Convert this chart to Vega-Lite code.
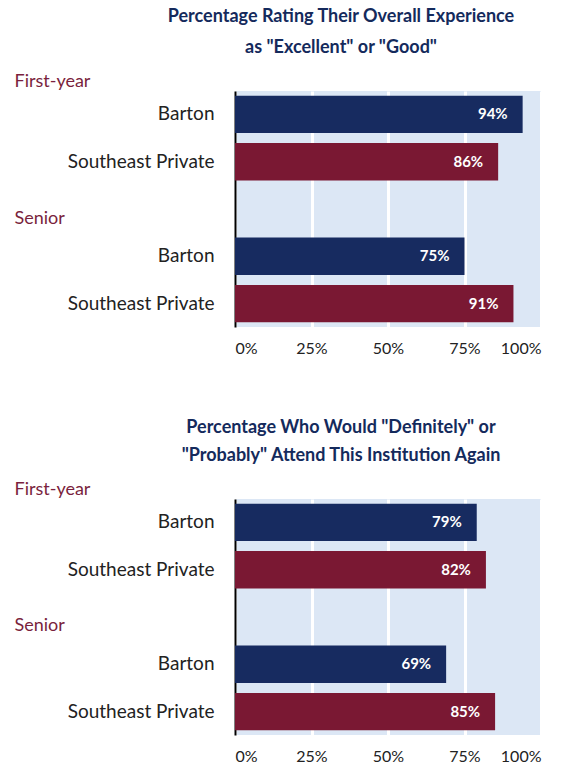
{
  "$schema": "https://vega.github.io/schema/vega-lite/v6.json",
  "padding": {"left": 14, "top": 8, "right": 5, "bottom": 0},
  "background": "white",
  "datasets": {
    "experience": [
      {"key": "First-year|Barton", "school": "Barton", "value": 0.94},
      {"key": "First-year|Southeast Private", "school": "Southeast Private", "value": 0.86},
      {"key": "Senior|Barton", "school": "Barton", "value": 0.75},
      {"key": "Senior|Southeast Private", "school": "Southeast Private", "value": 0.91}
    ],
    "again": [
      {"key": "First-year|Barton", "school": "Barton", "value": 0.79},
      {"key": "First-year|Southeast Private", "school": "Southeast Private", "value": 0.82},
      {"key": "Senior|Barton", "school": "Barton", "value": 0.69},
      {"key": "Senior|Southeast Private", "school": "Southeast Private", "value": 0.85}
    ]
  },
  "config": {
    "font": "Lato",
    "view": {"stroke": null, "fill": "#dce7f5"},
    "title": {"font": "Lato", "fontSize": 18, "fontWeight": "bold", "color": "#142a5c", "anchor": "middle", "frame": "group", "dx": -47, "lineHeight": 31, "offset": 15},
    "axisY": {
      "ticks": false, "tickSize": 0, "grid": false,
      "domainColor": "#000000", "domainWidth": 2,
      "labelFont": "Lato", "labelFontSize": 19, "labelColor": "#222222",
      "titleFont": "Lato", "titleFontSize": 18, "titleFontWeight": "normal", "titleColor": "#7a1f3d",
      "titleAngle": 0, "titleAlign": "left", "titleBaseline": "middle", "titleX": -221, "titleY": -10
    },
    "axisX": {
      "ticks": false, "domain": false, "grid": true, "gridColor": "#ffffff", "gridWidth": 3,
      "labelFont": "Lato", "labelFontSize": 16, "labelColor": "#222222", "labelPadding": 13, "title": null
    }
  },
  "spacing": 63,
  "vconcat": [
    {
      "data": {"name": "experience"},
      "title": {"text": ["Percentage Rating Their Overall Experience", "as \"Excellent\" or \"Good\""]},
      "width": 306,
      "height": 236,
      "encoding": {
        "y": {
          "field": "key", "type": "nominal",
          "scale": {"domain": ["First-year|Barton", "First-year|Southeast Private", "Senior", "Senior|Barton", "Senior|Southeast Private"], "paddingInner": 0.21, "paddingOuter": 0.1},
          "axis": {
            "title": "First-year",
            "labelExpr": "indexof(datum.value, '|') >= 0 ? split(datum.value, '|')[1] : datum.value",
            "labelAlign": {"condition": {"test": "datum.value == 'Senior'", "value": "left"}, "value": "right"},
            "labelPadding": {"condition": {"test": "datum.value == 'Senior'", "value": 221}, "value": 21},
            "labelColor": {"condition": {"test": "datum.value == 'Senior'", "value": "#7a1f3d"}, "value": "#222222"},
            "labelFontSize": {"condition": {"test": "datum.value == 'Senior'", "value": 18}, "value": 19},
            "labelOffset": {"condition": {"test": "datum.value == 'Senior'", "value": 10}, "value": 0}
          }
        },
        "x": {
          "field": "value", "type": "quantitative",
          "scale": {"domain": [0, 1], "nice": false},
          "axis": {"values": [0, 0.25, 0.5, 0.75, 1], "format": ".0%"}
        }
      },
      "layer": [
        {
          "mark": {"type": "bar"},
          "encoding": {
            "color": {"field": "school", "type": "nominal", "scale": {"domain": ["Barton", "Southeast Private"], "range": ["#172b60", "#7a1833"]}, "legend": null}
          }
        },
        {
          "mark": {"type": "text", "align": "right", "baseline": "middle", "dx": -15, "color": "#ffffff", "fontSize": 15, "fontWeight": "bold", "font": "Lato"},
          "encoding": {"text": {"field": "value", "type": "quantitative", "format": ".0%"}}
        }
      ]
    },
    {
      "data": {"name": "again"},
      "title": {"text": ["Percentage Who Would \"Definitely\" or", "\"Probably\" Attend This Institution Again"], "lineHeight": 28},
      "width": 306,
      "height": 236,
      "encoding": {
        "y": {
          "field": "key", "type": "nominal",
          "scale": {"domain": ["First-year|Barton", "First-year|Southeast Private", "Senior", "Senior|Barton", "Senior|Southeast Private"], "paddingInner": 0.21, "paddingOuter": 0.1},
          "axis": {
            "title": "First-year",
            "labelExpr": "indexof(datum.value, '|') >= 0 ? split(datum.value, '|')[1] : datum.value",
            "labelAlign": {"condition": {"test": "datum.value == 'Senior'", "value": "left"}, "value": "right"},
            "labelPadding": {"condition": {"test": "datum.value == 'Senior'", "value": 221}, "value": 21},
            "labelColor": {"condition": {"test": "datum.value == 'Senior'", "value": "#7a1f3d"}, "value": "#222222"},
            "labelFontSize": {"condition": {"test": "datum.value == 'Senior'", "value": 18}, "value": 19},
            "labelOffset": {"condition": {"test": "datum.value == 'Senior'", "value": 9}, "value": 0}
          }
        },
        "x": {
          "field": "value", "type": "quantitative",
          "scale": {"domain": [0, 1], "nice": false},
          "axis": {"values": [0, 0.25, 0.5, 0.75, 1], "format": ".0%"}
        }
      },
      "layer": [
        {
          "mark": {"type": "bar"},
          "encoding": {
            "color": {"field": "school", "type": "nominal", "scale": {"domain": ["Barton", "Southeast Private"], "range": ["#172b60", "#7a1833"]}, "legend": null}
          }
        },
        {
          "mark": {"type": "text", "align": "right", "baseline": "middle", "dx": -15, "color": "#ffffff", "fontSize": 15, "fontWeight": "bold", "font": "Lato"},
          "encoding": {"text": {"field": "value", "type": "quantitative", "format": ".0%"}}
        }
      ]
    }
  ]
}
